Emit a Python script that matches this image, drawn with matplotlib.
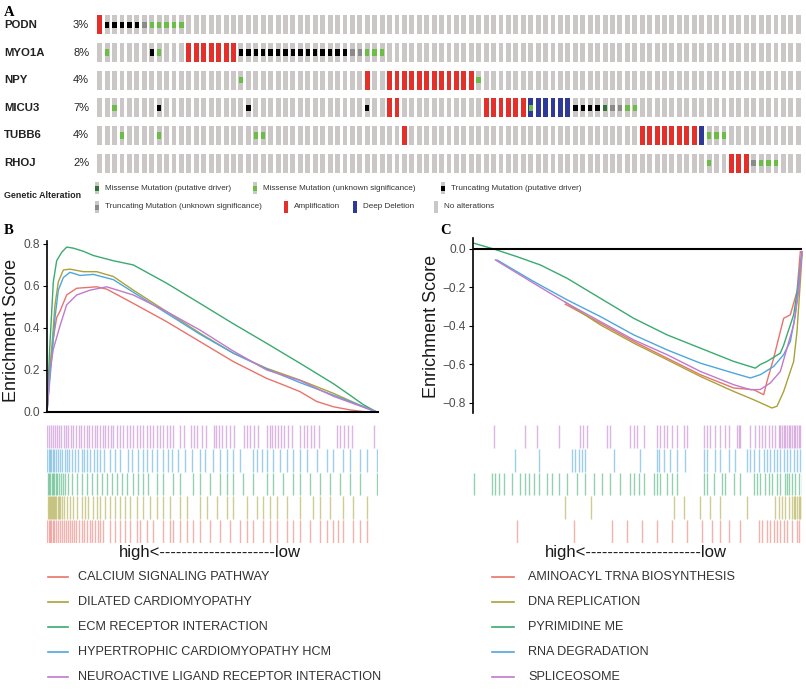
import matplotlib
matplotlib.use("Agg")
import matplotlib.pyplot as plt

W, H = 806, 690
plt.rcParams["font.family"] = ["Liberation Sans", "DejaVu Sans"]

# ---- panel A: oncoprint ----
genes = ["PODN", "MYO1A", "NPY", "MICU3", "TUBB6", "RHOJ"]
gene_pct = ["3%", "8%", "4%", "7%", "4%", "2%"]
n_cases = 95
# (first case, last case, alteration)
podn_alt = [(0, 0, "amp"), (1, 5, "trunc"), (6, 6, "trunc_u"), (7, 11, "mis_u")]
myo1a_alt = [(1, 1, "mis_u"), (7, 7, "trunc"), (8, 8, "mis_u"), (12, 18, "amp"),
             (19, 33, "trunc"), (34, 35, "trunc_u"), (36, 38, "mis_u")]
npy_alt = [(19, 19, "mis_u"), (36, 36, "amp"), (39, 50, "amp"), (51, 51, "mis_u")]
micu3_alt = [(2, 2, "mis_u"), (8, 8, "trunc"), (20, 20, "trunc"), (36, 36, "trunc"),
             (39, 40, "amp"), (52, 57, "amp"), (58, 63, "del"), (58, 58, "mis_u"),
             (64, 67, "trunc"), (68, 68, "mis_d"), (69, 70, "trunc_u"), (71, 72, "mis_u")]
tubb6_alt = [(3, 3, "mis_u"), (8, 8, "mis_u"), (21, 22, "mis_u"), (41, 41, "amp"),
             (73, 80, "amp"), (81, 81, "del"), (82, 84, "mis_u")]
rhoj_alt = [(82, 82, "mis_u"), (85, 87, "amp"), (88, 88, "trunc_u"), (89, 91, "mis_u")]
gene_alts = [podn_alt, myo1a_alt, npy_alt, micu3_alt, tubb6_alt, rhoj_alt]

alt_colors = {"amp": "#E4302B", "del": "#2F3A98", "trunc": "#000000",
              "trunc_u": "#8A8A8A", "mis_u": "#6CBD45", "mis_d": "#2E7434"}
no_alt_color = "#CBC7C7"

# ---- panel B: GSEA, enriched in high group (x = gene rank) ----
b_names = ["CALCIUM SIGNALING PATHWAY", "DILATED CARDIOMYOPATHY", "ECM RECEPTOR INTERACTION",
           "HYPERTROPHIC CARDIOMYOPATHY HCM", "NEUROACTIVE LIGAND RECEPTOR INTERACTION"]
b_calcium_x = [0, 9, 19, 29, 39, 59, 89, 149, 179, 259, 359, 459, 559, 659, 709, 759, 809, 859, 909, 959, 989]
b_calcium_y = [0, 0.22, 0.35, 0.45, 0.48, 0.557, 0.589, 0.596, 0.585, 0.517, 0.43, 0.335, 0.24, 0.16,
               0.129, 0.097, 0.05, 0.025, 0.01, 0.0, 0.0]
b_dilated_x = [0, 14, 24, 34, 49, 69, 109, 149, 199, 259, 359, 459, 559, 659, 759, 859, 959, 989]
b_dilated_y = [0, 0.30, 0.51, 0.62, 0.676, 0.68, 0.668, 0.668, 0.645, 0.58, 0.478, 0.375, 0.28,
               0.208, 0.152, 0.089, 0.018, 0.0]
b_ecm_x = [0, 8, 19, 29, 44, 59, 79, 109, 139, 199, 259, 359, 459, 559, 659, 759, 859, 909, 949, 989]
b_ecm_y = [0, 0.30, 0.62, 0.72, 0.76, 0.785, 0.78, 0.765, 0.745, 0.72, 0.70, 0.613, 0.517, 0.42,
           0.327, 0.232, 0.135, 0.08, 0.035, 0.0]
b_hcm_x = [0, 14, 24, 34, 49, 69, 99, 139, 199, 259, 359, 459, 559, 659, 759, 859, 959, 989]
b_hcm_y = [0, 0.25, 0.45, 0.58, 0.64, 0.665, 0.65, 0.655, 0.63, 0.57, 0.47, 0.37, 0.28, 0.205,
           0.14, 0.08, 0.02, 0.0]
b_neuro_x = [0, 9, 19, 39, 59, 89, 129, 179, 259, 359, 459, 559, 659, 759, 859, 959, 989]
b_neuro_y = [0, 0.20, 0.30, 0.41, 0.51, 0.557, 0.58, 0.596, 0.557, 0.478, 0.39, 0.29, 0.20,
             0.15, 0.075, 0.017, 0.0]

# gene positions of each set along the ranked list (barcode rows, top to bottom)
b_neuro_hits = [1, 7, 13, 19, 25, 31, 37, 43, 50, 57, 64, 71, 79, 87, 95, 103, 111, 119, 127, 135,
                143, 151, 159, 167, 175, 183, 191, 199, 209, 219, 229, 239, 249, 259, 269, 279,
                289, 299, 309, 319, 329, 339, 349, 359, 369, 379, 399, 411, 431, 441, 449, 466,
                476, 500, 508, 516, 526, 536, 548, 560, 590, 600, 610, 620, 632, 660, 668, 676,
                684, 692, 702, 712, 722, 734, 760, 770, 780, 792, 802, 815, 870, 880, 892, 904,
                916, 982]
b_hcm_hits = [1, 5, 9, 13, 17, 21, 27, 33, 39, 46, 53, 60, 66, 74, 84, 94, 104, 112, 121, 129, 141,
              151, 159, 171, 189, 204, 219, 244, 254, 274, 289, 299, 314, 329, 349, 364, 374, 394,
              414, 434, 459, 474, 499, 519, 539, 559, 579, 619, 629, 644, 659, 679, 699, 719, 739,
              759, 779, 809, 839, 859, 889, 909, 939, 959, 989]
b_ecm_hits = [2, 6, 10, 14, 18, 22, 26, 30, 36, 42, 48, 54, 64, 74, 89, 104, 121, 134, 149, 164,
              179, 194, 209, 224, 239, 259, 274, 289, 304, 329, 349, 379, 399, 439, 459, 489, 519,
              539, 559, 589, 619, 659, 679, 709, 739, 759, 789, 819, 849, 879, 909, 939, 989]
b_dilated_hits = [2, 5, 8, 11, 14, 17, 20, 24, 28, 32, 36, 40, 44, 50, 59, 69, 79, 91, 104, 114,
                  124, 137, 149, 159, 174, 189, 204, 219, 234, 249, 269, 289, 309, 329, 349, 369,
                  399, 419, 459, 479, 509, 539, 559, 599, 629, 649, 669, 689, 719, 759, 799, 819,
                  849, 889, 919, 959]
b_calcium_hits = [1, 5, 9, 13, 17, 21, 26, 32, 38, 44, 50, 56, 62, 68, 74, 80, 88, 96, 104, 112,
                  120, 128, 136, 144, 152, 160, 169, 189, 204, 219, 234, 249, 269, 279, 299, 319,
                  349, 369, 379, 399, 419, 439, 459, 489, 519, 549, 579, 599, 619, 649, 669, 689,
                  719, 739, 759, 789, 819, 839, 859, 874, 889, 919, 939, 959]

# ---- panel C: GSEA, enriched in low group ----
c_names = ["AMINOACYL TRNA BIOSYNTHESIS", "DNA REPLICATION", "PYRIMIDINE ME",
           "RNA DEGRADATION", "SPLICEOSOME"]
c_amino_x = [277, 382, 482, 582, 682, 782, 842, 872, 882, 902, 917, 932, 952, 972, 982]
c_amino_y = [-0.287, -0.385, -0.48, -0.567, -0.653, -0.722, -0.731, -0.757, -0.688, -0.567,
             -0.463, -0.36, -0.342, -0.22, -0.014]
c_dna_x = [277, 382, 482, 582, 682, 782, 842, 897, 912, 932, 952, 962, 972, 982, 987]
c_dna_y = [-0.276, -0.394, -0.489, -0.575, -0.662, -0.74, -0.783, -0.826, -0.817, -0.74,
           -0.636, -0.584, -0.429, -0.17, -0.031]
c_pyr_x = [2, 62, 132, 202, 282, 382, 482, 582, 682, 782, 847, 862, 882, 922, 932, 942, 962, 977, 987]
c_pyr_y = [0.03, 0.0, -0.04, -0.083, -0.152, -0.256, -0.36, -0.446, -0.515, -0.584, -0.619,
           -0.60, -0.584, -0.541, -0.50, -0.446, -0.342, -0.17, -0.014]
c_rna_x = [72, 182, 282, 382, 482, 582, 682, 782, 832, 862, 902, 932, 952, 967, 977, 987]
c_rna_y = [-0.057, -0.169, -0.264, -0.351, -0.446, -0.524, -0.593, -0.645, -0.67, -0.653,
           -0.61, -0.549, -0.48, -0.342, -0.17, -0.014]
c_splice_x = [67, 182, 282, 382, 482, 582, 682, 782, 832, 862, 892, 922, 942, 962, 977, 987]
c_splice_y = [-0.057, -0.178, -0.282, -0.377, -0.472, -0.549, -0.636, -0.705, -0.731, -0.73,
              -0.696, -0.636, -0.515, -0.394, -0.221, -0.014]

c_splice_hits = [62, 157, 192, 257, 322, 330, 342, 402, 412, 472, 482, 492, 512, 552, 562, 572,
                 582, 597, 612, 632, 642, 692, 702, 712, 727, 742, 757, 767, 792, 797, 802, 832,
                 847, 857, 867, 877, 887, 897, 907, 917, 922, 927, 932, 937, 942, 947, 952, 957,
                 962, 967, 972, 977, 982]
c_rna_hits = [127, 197, 297, 307, 317, 327, 337, 422, 502, 552, 557, 572, 592, 612, 637, 692, 702,
              727, 742, 767, 787, 822, 832, 842, 857, 872, 882, 892, 902, 912, 922, 932, 942, 952,
              962, 972, 982]
c_pyr_hits = [4, 57, 67, 77, 92, 117, 142, 157, 167, 182, 197, 222, 237, 257, 282, 312, 337, 362,
              387, 412, 442, 472, 482, 497, 512, 542, 552, 562, 582, 597, 612, 692, 702, 722, 747,
              757, 782, 802, 842, 852, 862, 877, 887, 897, 912, 922, 937, 942, 947, 957, 967, 977,
              987]
c_dna_hits = [277, 354, 602, 632, 682, 712, 742, 822, 907, 917, 927, 937, 947, 957, 962, 967, 972,
              977, 982, 987]
c_amino_hits = [132, 302, 417, 462, 507, 552, 597, 642, 687, 717, 742, 767, 802, 857, 867, 882,
                892, 902, 912, 922, 932, 942, 957, 972, 977]

set_colors = ["#E8736B", "#A9A23A", "#3AAA70", "#4DA7DC", "#C07ACB"]
TXT = "#333333"


def px_axes(x0, y0, x1, y1):
    return fig.add_axes([x0 / W, 1 - y1 / H, (x1 - x0) / W, (y1 - y0) / H])


fig = plt.figure(figsize=(W / 100, H / 100), dpi=100)
fig.patch.set_facecolor("white")

# overlay for labels, in pixel coordinates
ov = px_axes(0, 0, W, H)
ov.set_xlim(0, W)
ov.set_ylim(H, 0)
ov.axis("off")

# ---- A ----
axA = px_axes(96, 11, 802, 177)
cases = list(range(n_cases))
for r, alts in enumerate(gene_alts):
    axA.bar(cases, 0.69, width=0.66, bottom=r - 0.345, color=no_alt_color, linewidth=0)
    for kind in ["amp", "del"]:
        cols = [c for a, b, k in alts if k == kind for c in range(a, b + 1)]
        axA.bar(cols, 0.69, width=0.66, bottom=r - 0.345, color=alt_colors[kind], linewidth=0)
    for kind in ["trunc", "trunc_u", "mis_u", "mis_d"]:
        cols = [c for a, b, k in alts if k == kind for c in range(a, b + 1)]
        axA.bar(cols, 0.23, width=0.6, bottom=r - 0.115, color=alt_colors[kind], linewidth=0)
axA.set_xlim(-0.5, n_cases - 0.5)
axA.set_ylim(len(genes) - 0.5, -0.5)
axA.axis("off")

row_px = [11 + (166 / 6) * (r + 0.5) for r in range(len(genes))]
for r, g in enumerate(genes):
    ov.text(4, row_px[r], g, fontsize=8.2, fontweight="bold", color="#222222", va="center")
    ov.text(73, row_px[r], gene_pct[r], fontsize=8, color="#222222", va="center")

ov.text(4, 13, "A", family="Liberation Serif", fontweight="bold", fontsize=10.5, va="center")
ov.text(4, 196, "Genetic Alteration", fontsize=6.4, fontweight="bold", color="#222222", va="center")
leg_a = [(97, 188, "mis_d", "Missense Mutation (putative driver)"),
         (255, 188, "mis_u", "Missense Mutation (unknown significance)"),
         (443, 188, "trunc", "Truncating Mutation (putative driver)"),
         (97, 207, "trunc_u", "Truncating Mutation (unknown significance)"),
         (286, 207, "amp", "Amplification"),
         (355, 207, "del", "Deep Deletion"),
         (436, 207, None, "No alterations")]
for x, y, kind, label in leg_a:
    full = kind in ("amp", "del")
    ov.add_patch(plt.Rectangle((x - 2, y - 6), 4, 12,
                               color=alt_colors[kind] if full else no_alt_color, lw=0))
    if kind and not full:
        ov.add_patch(plt.Rectangle((x - 2, y - 2), 4, 4.5, color=alt_colors[kind], lw=0))
    ov.text(x + 8, y, label, fontsize=5.9, color=TXT, va="center")


def style_es(ax):
    ax.set_xticks([])
    ax.tick_params(axis="y", length=3, width=0.8, colors="black", labelsize=8.6,
                   labelcolor="#4D4D4D", pad=2)
    for s in ["top", "right"]:
        ax.spines[s].set_visible(False)
    ax.spines["left"].set_linewidth(1.2)
    ax.set_facecolor("none")


def rug(ax, hits, xmax):
    for r, xs in enumerate(hits):
        ax.vlines(xs, r + 0.02, r + 0.98, color=rug_colors[r], alpha=0.55, lw=1.0)
    ax.set_xlim(0, xmax)
    ax.set_ylim(len(hits), 0)
    ax.axis("off")


rug_colors = [set_colors[4], set_colors[3], set_colors[2], set_colors[1], set_colors[0]]

# ---- B ----
axB = px_axes(47, 241, 378, 412)
b_curves = [(b_calcium_x, b_calcium_y), (b_dilated_x, b_dilated_y), (b_ecm_x, b_ecm_y),
            (b_hcm_x, b_hcm_y), (b_neuro_x, b_neuro_y)]
for (xs, ys), col in zip(b_curves, set_colors):
    axB.plot(xs, ys, color=col, lw=1.0, clip_on=False)
axB.set_xlim(0, 993)
axB.set_ylim(0, 0.814)
axB.set_yticks([0.0, 0.2, 0.4, 0.6, 0.8])
axB.set_yticklabels(["0.0", "0.2", "0.4", "0.6", "0.8"])
style_es(axB)
axB.spines["bottom"].set_linewidth(1.5)

rugB = px_axes(47, 425, 378, 543)
rug(rugB, [b_neuro_hits, b_hcm_hits, b_ecm_hits, b_dilated_hits, b_calcium_hits], 993)

# ---- C ----
axC = px_axes(473, 238, 802, 413)
c_curves = [(c_amino_x, c_amino_y), (c_dna_x, c_dna_y), (c_pyr_x, c_pyr_y),
            (c_rna_x, c_rna_y), (c_splice_x, c_splice_y)]
for (xs, ys), col in zip(c_curves, set_colors):
    axC.plot(xs, ys, color=col, lw=1.0, clip_on=False)
axC.axhline(0, color="black", lw=1.5)
axC.set_xlim(0, 987)
axC.set_ylim(-0.852, 0.057)
axC.set_yticks([0.0, -0.2, -0.4, -0.6, -0.8])
axC.set_yticklabels(["0.0", "\u22120.2", "\u22120.4", "\u22120.6", "\u22120.8"])
style_es(axC)
axC.spines["bottom"].set_visible(False)

rugC = px_axes(473, 425, 802, 543)
rug(rugC, [c_splice_hits, c_rna_hits, c_pyr_hits, c_dna_hits, c_amino_hits], 987)

# labels
ov.text(4, 231, "B", family="Liberation Serif", fontweight="bold", fontsize=10.5, va="center")
ov.text(440, 231, "C", family="Liberation Serif", fontweight="bold", fontsize=10.5, va="center")
ov.text(12, 330, "Enrichment Score", rotation=90, fontsize=13, color="#1A1A1A",
        ha="center", va="center")
ov.text(431, 326, "Enrichment Score", rotation=90, fontsize=13, color="#1A1A1A",
        ha="center", va="center")
ov.text(210, 553, "high<" + "-" * 21 + "low", fontsize=12, color="#1A1A1A", ha="center", va="center")
ov.text(636, 553, "high<" + "-" * 21 + "low", fontsize=12, color="#1A1A1A", ha="center", va="center")

leg_rows = [577, 602, 627, 652, 677]
for i, y in enumerate(leg_rows):
    ov.plot([48, 68], [y, y], color=set_colors[i], lw=1.2)
    ov.text(78, y, b_names[i], fontsize=9.1, color=TXT, va="center")
    ov.plot([492, 514], [y, y], color=set_colors[i], lw=1.2)
    ov.text(528, y, c_names[i], fontsize=9.1, color=TXT, va="center")

fig.savefig("out.png", dpi=100, facecolor="white")
